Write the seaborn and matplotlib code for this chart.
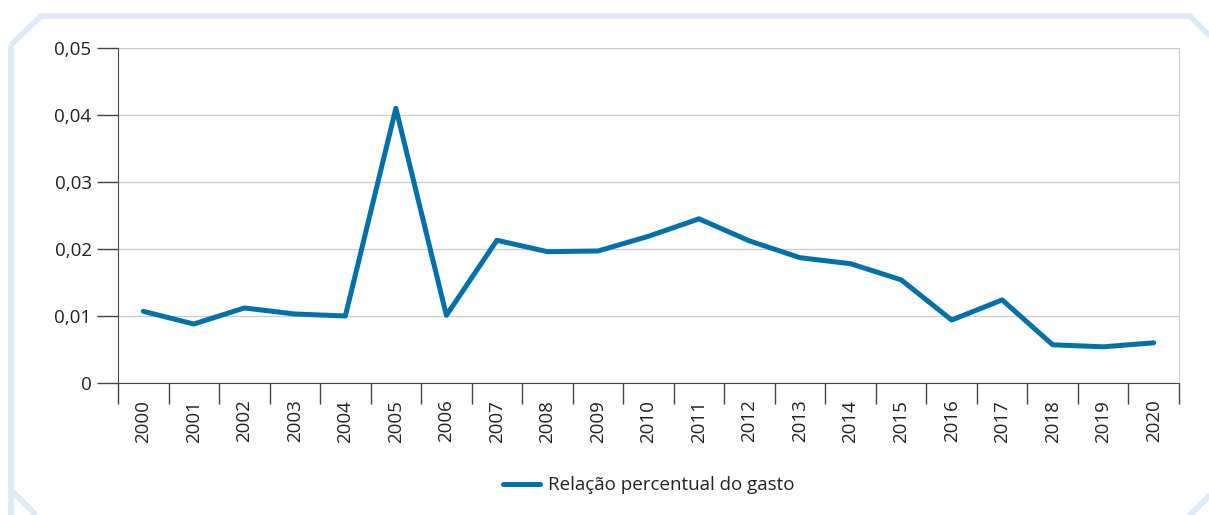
import pandas as pd
import seaborn as sns
import matplotlib.pyplot as plt
from matplotlib.patches import Polygon
from matplotlib.ticker import FuncFormatter, FixedLocator

years = [str(y) for y in range(2000, 2021)]
gasto = [0.0107, 0.0088, 0.0112, 0.0103, 0.0100, 0.0410, 0.0101, 0.0213,
         0.0196, 0.0197, 0.0219, 0.0245, 0.0212, 0.0187, 0.0178, 0.0154,
         0.0094, 0.0124, 0.0057, 0.0054, 0.0060]
serie = "Relação percentual do gasto"

df = pd.DataFrame({"Ano": years, "valor": gasto})

sns.set_style("white")
plt.rcParams['font.family'] = ['Open Sans', 'DejaVu Sans']

W, H = 1209, 515
fig = plt.figure(figsize=(W / 100, H / 100), dpi=100)
ax = fig.add_axes([118 / W, 1 - 383 / H, (1179 - 118) / W, (383 - 48) / H])


def px(points):
    return [(x / W, 1 - y / H) for x, y in points]


# light blue frame with cut corners
frame_color = "#dde9f6"
fig.add_artist(Polygon(px([(11, 45), (41, 16), (1190, 16), (1215, 41),
                           (1215, 520), (11, 520)]), closed=True, fill=False,
                       edgecolor=frame_color, linewidth=4, transform=fig.transFigure))
fig.add_artist(Polygon(px([(11, 490), (36, 515)]), closed=False, fill=False,
                       edgecolor=frame_color, linewidth=4, transform=fig.transFigure))
fig.add_artist(Polygon(px([(1185, 520), (1215, 490)]), closed=False, fill=False,
                       edgecolor=frame_color, linewidth=4, transform=fig.transFigure))

sns.lineplot(data=df, x="Ano", y="valor", ax=ax, color="#0070a8",
             linewidth=3.6, label=serie, sort=False)

ax.set_xlim(-0.5, len(years) - 0.5)
ax.set_ylim(0, 0.05)
ax.set_yticks([0, 0.01, 0.02, 0.03, 0.04, 0.05])
ax.yaxis.set_major_formatter(FuncFormatter(
    lambda v, p: "0" if v == 0 else f"{v:.2f}".replace(".", ",")))
ax.grid(axis="y", color="#cccccc", linewidth=1)
ax.set_axisbelow(True)

ax.set_xticks(range(len(years)))
ax.set_xticklabels(years, rotation=90)
ax.xaxis.set_minor_locator(FixedLocator([i - 0.5 for i in range(len(years) + 1)]))
ax.tick_params(axis="x", which="major", length=0, pad=12, labelsize=13.5, colors="#222222")
ax.tick_params(axis="x", which="minor", length=15, width=1, color="#444444", bottom=True)
ax.tick_params(axis="y", length=15, width=1, color="#444444", labelsize=13.5,
               labelcolor="#222222", left=True, pad=4)

ax.spines["top"].set_visible(False)
ax.spines["right"].set_color("#cccccc")
ax.spines["left"].set_color("#444444")
ax.spines["bottom"].set_color("#444444")

ax.set_xlabel("")
ax.set_ylabel("")

ax.legend(loc="center", bbox_to_anchor=(0.5, -0.305), frameon=False,
          fontsize=13.5, handlelength=2.0, handletextpad=0.4, labelcolor="#222222")

fig.savefig("out.png", dpi=100)
